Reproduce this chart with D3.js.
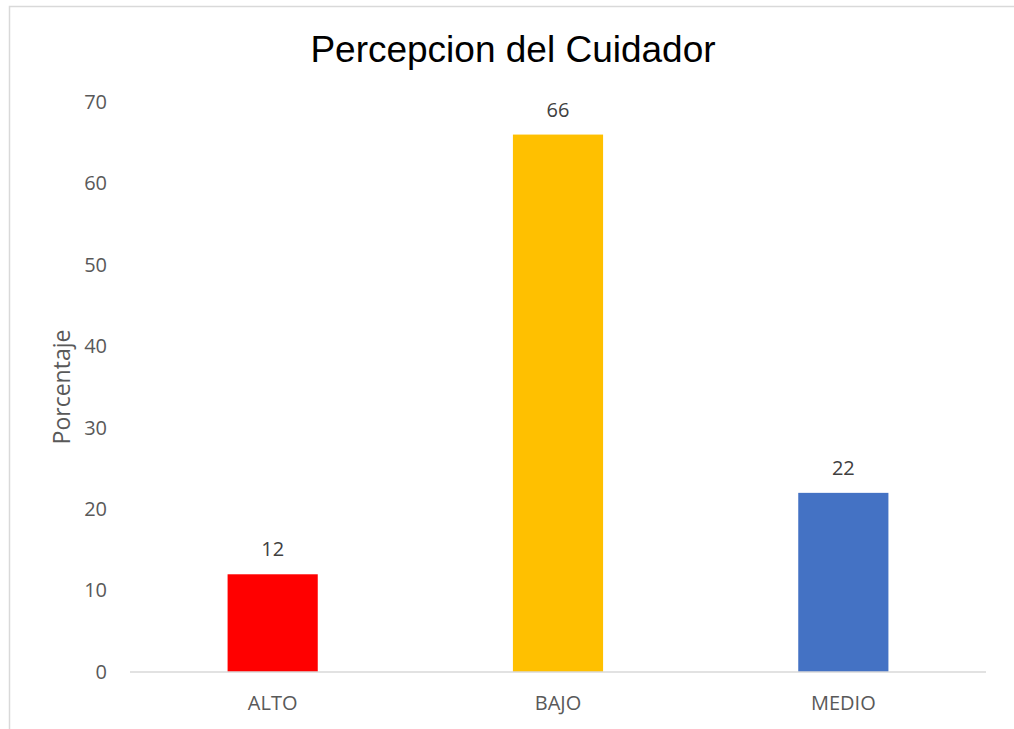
<!DOCTYPE html>
<html><head><meta charset="utf-8">
<script src="https://cdn.jsdelivr.net/npm/d3@7"></script>
<style>body{margin:0;background:#fff;}svg{display:block;}</style>
</head><body>
<script>
const categories = ["ALTO", "BAJO", "MEDIO"];
const values = [12, 66, 22];
const colors = ["#FF0000", "#FFC000", "#4472C4"];
const yTicks = [0, 10, 20, 30, 40, 50, 60, 70];
const title = "Percepcion del Cuidador";
const yTitle = "Porcentaje";

const W = 1014, H = 729;
const svg = d3.select("body").append("svg").attr("width", W).attr("height", H);
svg.append("rect").attr("x", 9.5).attr("y", 6.5).attr("width", 1020).attr("height", 740)
  .attr("fill", "#fff").attr("stroke", "#d9d9d9").attr("stroke-width", 1.5);

const x = d3.scaleBand().domain(categories).range([130, 986]).paddingInner(0.684).paddingOuter(0.342);
const y = d3.scaleLinear().domain([0, 70]).range([672, 102]);

const font = "'Open Sans', 'Liberation Sans', sans-serif";

// bars
svg.selectAll("rect.bar").data(values).enter().append("rect").attr("class", "bar")
  .attr("x", (d, i) => x(categories[i])).attr("width", x.bandwidth())
  .attr("y", d => y(d)).attr("height", d => y(0) - y(d))
  .attr("fill", (d, i) => colors[i]);

// baseline
svg.append("line").attr("x1", 130).attr("x2", 986).attr("y1", y(0)).attr("y2", y(0))
  .attr("stroke", "#d9d9d9").attr("stroke-width", 1.5);

// y axis
const yAxis = d3.axisLeft(y).tickValues(yTicks).tickSize(0).tickPadding(0);
const gy = svg.append("g").attr("transform", "translate(107,0)").call(yAxis);
gy.select(".domain").remove();
gy.selectAll("text").attr("fill", "#595959").style("font-family", font).style("font-size", "20px");

// x axis
const xAxis = d3.axisBottom(x).tickSize(0).tickPadding(0);
const gx = svg.append("g").attr("transform", "translate(0,695.5)").call(xAxis);
gx.select(".domain").remove();
gx.selectAll("text").attr("fill", "#595959").style("font-family", font).style("font-size", "20px");

// value labels
svg.selectAll("text.val").data(values).enter().append("text").attr("class", "val")
  .attr("x", (d, i) => x(categories[i]) + x.bandwidth() / 2)
  .attr("y", d => y(d) - 18)
  .attr("text-anchor", "middle").attr("fill", "#404040")
  .style("font-family", font).style("font-size", "20px").text(d => d);

// title
svg.append("text").attr("x", 513).attr("y", 62).attr("text-anchor", "middle")
  .attr("fill", "#000").style("font-family", "'Liberation Sans', Arial, sans-serif").style("font-size", "37px").text(title);

// y title
svg.append("text").attr("transform", "translate(70,387) rotate(-90)").attr("text-anchor", "middle")
  .attr("fill", "#595959").style("font-family", font).style("font-size", "23px").text(yTitle);
</script>
</body></html>
